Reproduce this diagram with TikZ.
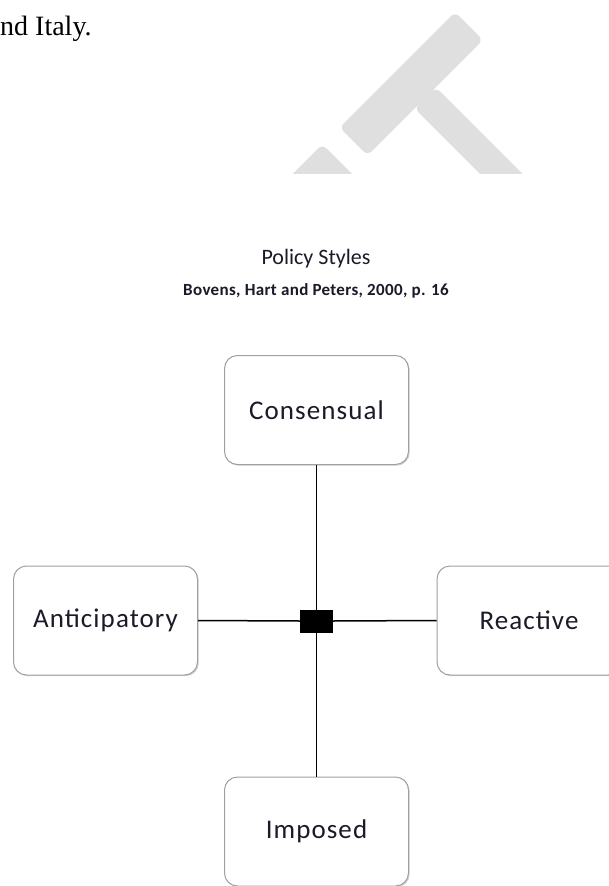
\documentclass[tikz,border=0pt]{standalone}
\usepackage{fontspec}
\setmainfont{Carlito}
\newfontfamily\bodyserif{Liberation Serif}
\newfontfamily\labfont[LetterSpace=4]{Carlito}
\newfontfamily\subfont[LetterSpace=2]{Carlito}
\usetikzlibrary{shadows}
\definecolor{wmgray}{HTML}{DFDFDF}
\definecolor{boxline}{HTML}{A0A0A0}
\definecolor{labtext}{HTML}{1A1A28}
\tikzset{
  stylebox/.style={draw=boxline, line width=1pt, fill=white, rounded corners=13pt,
    minimum width=184pt, minimum height=109pt, inner sep=0pt,
    text=labtext, font=\labfont\fontsize{27}{31}\selectfont,
    drop shadow={opacity=0.35, shadow xshift=1.2pt, shadow yshift=-1.2pt}},
  hubsq/.style={fill=black, draw=black, minimum width=32pt, minimum height=22pt, inner sep=0pt},
  link/.style={line width=1.5pt, black},
  wm/.style={fill=wmgray, draw=none, rounded corners=6pt}
}
\begin{document}
\begin{tikzpicture}[x=1pt, y=-1pt]
\useasboundingbox (0,0) rectangle (609,886);
\fill[white] (0,0) rectangle (609,886);
% top text line
\node[anchor=base west, inner sep=0pt, font=\bodyserif\fontsize{28}{32}\selectfont] (topline) at (0,35) {nd Italy.};
% watermark
\begin{scope}
\clip (0,0) rectangle (609,173.3);
\fill[wm] (455,12) -- (483,40) -- (367.5,155.5) -- (339.5,127.5) -- cycle;
\fill[wm] (414.5,108.5) -- (435.75,87.25) -- (528.5,180) -- (486,180) -- cycle;
\fill[wm] (322.25,144.25) -- (358,180) -- (286.5,180) -- cycle;
\end{scope}
% titles
\node[anchor=base, inner sep=0pt, text=labtext, font=\fontsize{22}{26}\selectfont] (title) at (316,264) {Policy Styles};
\node[anchor=base, inner sep=0pt, text=labtext, font=\subfont\bfseries\fontsize{17}{20}\selectfont] (subtitle) at (316,295) {Bovens, Hart and Peters, 2000, p. 16};
% boxes
\node[stylebox] (cons) at (316.5,410) {Consensual};
\node[stylebox] (antic) at (105.5,620.5) {Anticipatory};
\node[stylebox] (react) at (529,620.5) {Reactive};
\node[stylebox] (impo) at (316.5,831.5) {Imposed};
\node[hubsq] (hub) at (316.5,621) {};
% connectors
\draw[link] (cons.south) -- (hub.north);
\draw[link] (hub.south) -- (impo.north);
\draw[link] (antic.east) -- (hub.west);
\draw[link] (hub.east) -- (react.west);
\end{tikzpicture}
\end{document}
